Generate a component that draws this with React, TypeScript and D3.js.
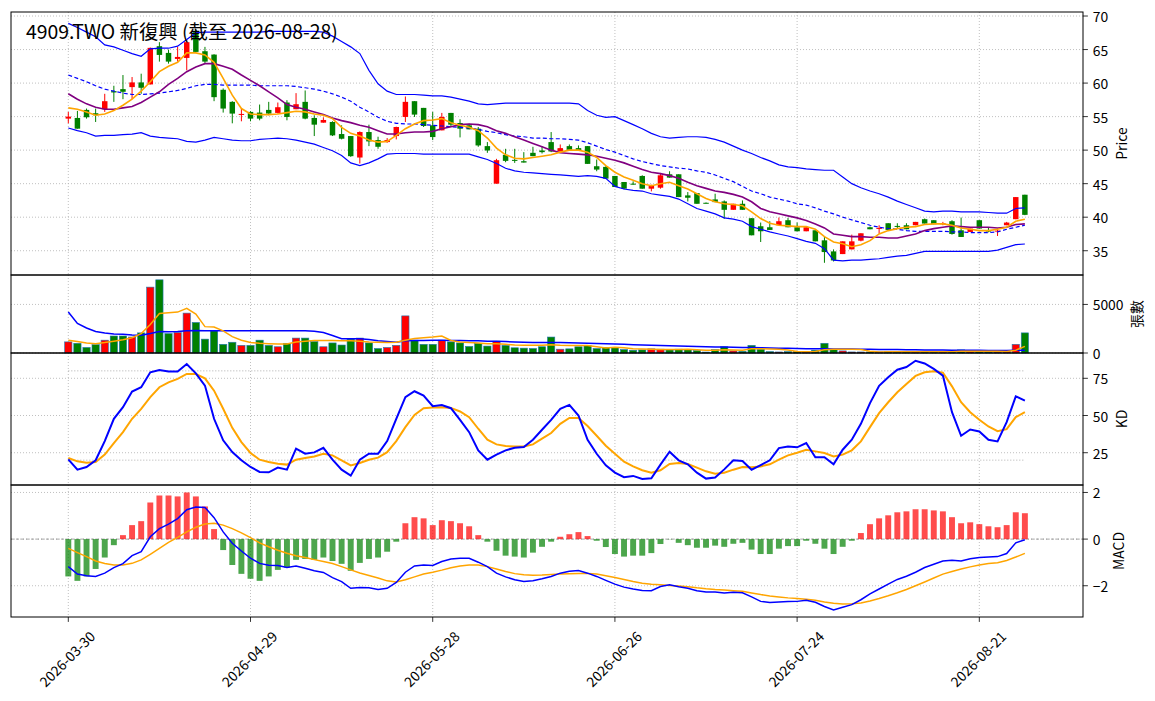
import * as d3 from 'd3';

// x-axis ticks (bar index -> date label)
const tickIdx = [0, 20, 40, 60, 80, 100];
const tickLabels = ['2026-03-30', '2026-04-29', '2026-05-28', '2026-06-26', '2026-07-24', '2026-08-21'];

const open = [
  54.7, 54.8, 56.0, 55.5, 56.1, 58.8, 59.1, 59.4, 60.1, 59.8,
  65.5, 64.5, 63.6, 63.75, 67.6, 64.75, 64.25, 59.0, 57.2, 55.3,
  55.7, 55.6, 56.0, 55.55, 57.1, 56.1, 57.2, 54.8, 54.1, 54.2,
  52.4, 52.1, 48.9, 52.7, 51.5, 51.2, 52.1, 54.95, 57.3, 56.3,
  53.7, 52.95, 55.55, 54.05, 53.7, 53.2, 50.6, 45.0, 49.3, 48.55,
  48.35, 49.6, 49.95, 51.2, 49.8, 50.6, 50.3, 50.6, 47.6, 47.5,
  46.15, 45.25, 45.0, 46.15, 44.25, 44.4, 46.4, 46.4, 43.25, 43.6,
  42.15, 42.65, 42.35, 41.1, 42.0, 39.85, 38.65, 38.5, 38.8, 39.55,
  38.5, 37.9, 38.05, 36.55, 34.9, 34.5, 35.2, 36.5, 38.5, 38.3,
  39.1, 38.7, 38.8, 38.8, 39.7, 39.55, 39.05, 39.4, 38.05, 37.8,
  39.55, 38.0, 37.95, 38.8, 39.7, 43.35,
];
const high = [
  55.7, 55.85, 56.2, 56.2, 58.4, 59.6, 61.2, 60.9, 61.4, 65.3,
  66.1, 65.0, 65.4, 66.4, 68.0, 65.4, 64.3, 59.2, 57.3, 56.2,
  55.8, 56.8, 57.2, 57.1, 57.45, 58.5, 58.9, 55.2, 54.9, 54.3,
  53.7, 52.1, 52.8, 53.8, 52.0, 51.8, 53.5, 58.0, 57.3, 56.3,
  55.7, 55.55, 55.55, 54.6, 53.95, 53.45, 51.2, 48.7, 50.2, 50.2,
  49.7, 50.5, 50.6, 52.7, 50.85, 50.85, 50.7, 50.6, 48.6, 47.6,
  46.15, 45.25, 45.35, 46.25, 44.85, 46.6, 46.85, 46.4, 43.75, 43.6,
  42.2, 43.5, 42.5, 42.0, 42.5, 39.85, 39.2, 39.4, 39.95, 39.9,
  39.2, 38.5, 38.05, 37.05, 35.2, 36.4, 37.4, 37.6, 38.6, 38.8,
  39.1, 39.1, 39.1, 39.3, 39.8, 39.55, 39.3, 39.55, 39.95, 38.3,
  39.55, 38.5, 38.3, 39.3, 43.0, 43.35,
];
const low = [
  54.0, 53.2, 54.7, 54.2, 55.7, 57.2, 57.6, 57.6, 58.4, 59.8,
  63.2, 62.9, 63.2, 61.9, 64.65, 62.9, 57.3, 55.6, 54.0, 54.3,
  54.3, 54.45, 55.2, 55.45, 54.45, 56.1, 54.6, 52.1, 54.1, 52.1,
  51.6, 49.0, 48.0, 50.6, 50.2, 51.1, 51.6, 54.2, 54.95, 53.45,
  51.5, 52.95, 53.45, 51.9, 53.1, 50.5, 49.6, 45.0, 48.2, 48.1,
  48.15, 49.1, 49.5, 49.7, 49.8, 49.95, 49.9, 47.95, 46.85, 45.75,
  44.5, 44.15, 44.85, 44.25, 43.85, 44.25, 45.9, 43.0, 42.35, 42.0,
  42.05, 42.25, 39.75, 41.1, 41.1, 37.3, 36.3, 38.1, 38.8, 38.5,
  37.9, 37.9, 36.4, 33.2, 33.4, 34.5, 35.2, 36.4, 38.2, 37.55,
  38.1, 38.3, 38.2, 38.8, 39.05, 38.95, 38.8, 37.4, 37.05, 37.8,
  38.3, 37.75, 37.2, 38.8, 39.7, 40.3,
];
const close = [
  55.0, 53.2, 54.9, 55.2, 57.3, 58.6, 58.7, 60.1, 59.3, 65.25,
  64.2, 63.2, 63.9, 66.1, 64.65, 63.2, 57.9, 56.2, 55.45, 55.4,
  54.7, 54.7, 55.45, 56.4, 54.95, 56.85, 54.7, 53.8, 54.5, 52.2,
  51.7, 49.1, 52.7, 51.3, 50.5, 51.5, 53.45, 57.2, 55.3, 53.6,
  51.95, 54.95, 53.8, 53.2, 53.1, 50.7, 49.95, 48.5, 48.4, 48.4,
  48.15, 49.1, 49.7, 49.8, 50.3, 50.05, 49.9, 47.95, 47.1, 45.75,
  44.5, 44.25, 44.85, 44.25, 44.65, 46.25, 45.9, 43.0, 42.9, 42.0,
  42.1, 42.25, 41.1, 42.0, 41.1, 37.3, 37.9, 38.1, 39.4, 38.5,
  37.9, 38.5, 36.4, 34.8, 33.55, 36.4, 36.4, 37.6, 38.2, 38.4,
  38.1, 38.6, 38.2, 39.3, 39.05, 38.95, 39.1, 37.5, 37.05, 38.3,
  38.3, 37.95, 38.0, 39.2, 43.0, 40.35,
];
const volume = [
  1143, 1000, 571, 857, 1321, 1750, 1750, 1643, 2071, 6783,
  7533, 2000, 2107, 4107, 3143, 1429, 2286, 893, 1107, 786,
  786, 1321, 786, 643, 1000, 1536, 1536, 1179, 643, 1036,
  821, 1429, 1536, 1036, 464, 571, 786, 3821, 1321, 893,
  893, 1321, 1143, 1036, 679, 1000, 714, 1214, 786, 536,
  500, 464, 643, 1643, 393, 429, 643, 750, 464, 571,
  571, 357, 286, 321, 429, 393, 321, 393, 357, 250,
  100, 357, 643, 214, 179, 786, 393, 143, 107, 143,
  143, 107, 286, 1000, 357, 214, 107, 107, 107, 107,
  143, 107, 143, 107, 143, 107, 107, 143, 321, 179,
  143, 107, 107, 214, 893, 2071,
];

// price overlays
const ma5 = [
  56.3, 56.1, 55.7, 55.2, 55.4, 55.9, 56.7, 57.6, 58.8, 60.2,
  61.7, 62.5, 63.1, 64.5, 64.5, 64.2, 63.1, 60.7, 58.2, 56.2,
  55.4, 55.3, 55.3, 55.4, 55.6, 55.8, 55.7, 55.4, 55.2, 54.7,
  53.4, 52.5, 52.1, 51.5, 51.2, 51.3, 52.2, 53.2, 53.9, 54.4,
  54.5, 54.7, 54.1, 53.7, 53.4, 52.9, 51.8, 50.3, 49.3, 48.8,
  48.7, 48.9, 49.1, 49.3, 49.7, 50.0, 50.0, 49.7, 48.9, 47.7,
  46.7, 46.0, 45.5, 45.0, 44.7, 45.0, 45.2, 44.7, 44.2, 43.5,
  42.8, 42.3, 42.0, 41.9, 41.7, 40.8, 39.8, 39.1, 38.8, 38.7,
  38.6, 38.6, 38.2, 37.1, 36.3, 36.05, 35.6, 35.9, 36.5, 37.5,
  38.0, 38.3, 38.5, 38.6, 38.9, 39.0, 39.0, 38.8, 38.4, 38.2,
  38.0, 38.0, 38.2, 38.5, 39.4, 39.7,
];
const ma10 = [
  58.4, 57.6, 56.9, 56.4, 56.1, 56.1, 56.3, 56.5, 57.1, 57.9,
  58.7, 59.8, 60.7, 61.7, 62.4, 62.9, 62.9, 62.5, 62.05, 61.2,
  60.4, 59.6, 58.7, 57.8, 56.8, 56.4, 56.1, 55.7, 55.3, 54.8,
  54.4, 54.1, 53.7, 53.4, 52.9, 52.4, 52.4, 52.6, 52.7, 52.7,
  52.8, 53.2, 53.5, 53.8, 53.9, 53.8, 53.5, 52.9, 52.5, 52.0,
  51.5, 51.0, 50.5, 50.0, 49.6, 49.5, 49.4, 49.3, 49.1, 48.8,
  48.5, 48.1, 47.6, 47.1, 46.7, 46.5, 46.2, 45.8, 45.2, 44.7,
  44.3, 43.9, 43.7, 43.4, 43.0, 42.3, 41.3, 40.8, 40.5, 40.2,
  39.9, 39.5, 39.0, 38.4, 37.5, 37.3, 37.1, 37.1, 37.0, 37.0,
  36.9, 36.9, 37.2, 37.5, 38.0, 38.3, 38.5, 38.7, 38.6, 38.5,
  38.5, 38.5, 38.4, 38.5, 38.9, 39.0,
];
const ma20 = [
  61.2, 60.7, 60.2, 59.6, 59.1, 58.8, 58.5, 58.3, 58.3, 58.4,
  58.5, 58.7, 58.9, 59.2, 59.6, 59.8, 59.8, 59.7, 59.7, 59.7,
  59.7, 59.6, 59.6, 59.6, 59.6, 59.5, 59.3, 59.1, 58.8, 58.4,
  57.9, 57.3, 56.4, 55.7, 54.9, 54.3, 54.0, 53.9, 53.9, 53.8,
  53.7, 53.6, 53.5, 53.4, 53.3, 53.1, 52.8, 52.6, 52.3, 52.1,
  52.0, 51.8, 51.8, 51.7, 51.7, 51.6, 51.5, 51.1, 50.6, 50.1,
  49.7, 49.2, 48.7, 48.3, 48.0, 47.7, 47.5, 47.3, 47.2, 46.9,
  46.7, 46.3, 45.8, 45.3, 44.6, 43.9, 43.5, 43.0, 42.7, 42.4,
  42.0, 41.8, 41.4, 40.9, 40.5, 40.0, 39.6, 39.2, 38.8, 38.5,
  38.3, 38.2, 38.0, 37.9, 37.9, 37.9, 37.9, 37.8, 37.8, 37.7,
  37.7, 37.7, 37.8, 38.2, 38.5, 38.8,
];
const bbUpper = [
  68.9, 68.3, 67.6, 66.9, 65.7, 65.4, 64.9, 64.4, 64.0, 65.1,
  65.2, 65.2, 65.5, 66.5, 67.5, 67.6, 67.6, 67.6, 67.6, 67.6,
  67.6, 67.6, 67.7, 67.7, 67.7, 67.7, 67.7, 67.7, 67.6, 67.0,
  66.2, 65.4, 64.4, 61.9, 59.9, 58.8, 58.3, 58.3, 58.3, 58.2,
  58.1, 58.1, 57.9, 57.6, 57.3, 56.9, 56.8, 56.9, 57.0, 57.0,
  57.0, 57.0, 57.0, 57.0, 57.0, 57.0, 56.9, 55.9, 55.2, 54.9,
  55.0, 54.4, 53.8, 53.2, 52.5, 52.0, 51.8, 51.9, 52.0, 52.0,
  51.9, 51.6, 51.2, 50.6, 50.0, 49.5, 48.9, 48.4, 47.8, 47.5,
  47.4, 47.2, 47.1, 47.0, 47.0, 46.0, 45.0, 44.4, 43.9, 43.5,
  43.0, 42.4, 41.9, 41.4, 40.9, 40.8, 40.9, 40.9, 40.8, 40.8,
  40.8, 40.7, 40.6, 40.6, 41.3, 41.4,
];
const bbLower = [
  53.3, 52.9, 52.6, 52.1, 52.2, 52.2, 52.3, 52.4, 52.6, 52.1,
  51.9, 51.8, 51.7, 51.3, 51.2, 51.5, 51.9, 51.7, 51.5, 51.4,
  51.4, 51.6, 51.7, 51.8, 51.7, 51.5, 51.2, 50.9, 50.4, 49.9,
  49.2, 48.1, 47.7, 48.1, 48.7, 49.4, 49.5, 49.5, 49.5, 49.4,
  49.4, 49.4, 49.4, 49.4, 49.4, 49.0, 48.6, 48.0, 47.3, 46.9,
  46.7, 46.6, 46.5, 46.4, 46.3, 46.2, 46.1, 46.2, 46.1, 45.8,
  44.6, 44.2, 44.0, 43.9, 43.5, 43.3, 43.1, 42.7, 42.0, 41.3,
  40.9, 40.5, 39.9, 39.7, 39.4, 38.6, 38.2, 37.8, 37.5, 37.2,
  36.8, 36.4, 36.1, 35.3, 33.6, 33.5, 33.6, 33.6, 33.7, 33.8,
  34.0, 34.2, 34.3, 34.6, 34.9, 34.9, 34.9, 34.9, 34.9, 34.9,
  34.9, 34.9, 35.1, 35.5, 35.9, 36.0,
];

// volume overlays
const volMa5 = [
  1321, 1179, 1036, 964, 1071, 1214, 1357, 1571, 2000, 2929,
  4070, 4141, 4213, 4605, 4000, 2714, 2679, 2286, 1679, 1321,
  1071, 1000, 964, 929, 929, 1143, 1214, 1286, 1286, 1286,
  1250, 1250, 1214, 1143, 1107, 1071, 1107, 1321, 1500, 1571,
  1643, 1750, 1286, 1143, 1071, 1036, 964, 964, 893, 821,
  786, 786, 786, 857, 786, 780, 760, 770, 650, 520,
  600, 540, 450, 410, 390, 370, 370, 370, 380, 340,
  290, 290, 340, 310, 290, 430, 440, 420, 390, 310,
  150, 130, 160, 340, 380, 390, 390, 360, 190, 110,
  120, 120, 120, 120, 120, 120, 120, 120, 170, 170,
  180, 180, 170, 150, 290, 680,
];
const volMa20 = [
  4213, 3036, 2571, 2214, 2071, 1964, 1929, 1857, 1821, 2000,
  2214, 2179, 2214, 2286, 2321, 2286, 2286, 2286, 2286, 2286,
  2286, 2286, 2286, 2286, 2286, 2286, 2286, 2250, 2100, 1800,
  1460, 1460, 1464, 1393, 1250, 1179, 1107, 1250, 1286, 1286,
  1321, 1321, 1286, 1286, 1250, 1250, 1214, 1214, 1179, 1143,
  1107, 1071, 1071, 1071, 1071, 1050, 1020, 1000, 980, 960,
  930, 900, 860, 830, 800, 770, 740, 720, 700, 680,
  650, 630, 610, 590, 570, 560, 540, 520, 500, 480,
  460, 440, 430, 430, 420, 410, 400, 390, 380, 370,
  360, 350, 340, 330, 320, 310, 300, 290, 290, 280,
  280, 270, 270, 270, 280, 290,
];

// KD
const kLine = [
  20.5, 13.6, 15.4, 19.9, 32.8, 47.8, 55.6, 66.1, 69.0, 79.0,
  80.6, 79.5, 79.5, 84.6, 78.3, 70.1, 47.8, 33.3, 25.4, 19.9,
  15.4, 12.1, 11.8, 15.0, 13.6, 27.7, 24.3, 25.2, 28.3, 20.3,
  13.6, 9.6, 20.3, 24.3, 24.3, 32.8, 47.8, 62.3, 66.3, 63.4,
  56.3, 57.1, 54.9, 47.1, 38.8, 26.6, 20.3, 23.7, 26.6, 28.3,
  28.8, 33.7, 40.4, 47.1, 54.5, 57.1, 50.0, 33.7, 24.3, 16.5,
  11.6, 8.5, 9.4, 7.4, 7.8, 17.0, 25.7, 19.9, 17.2, 11.6,
  7.6, 8.3, 13.8, 19.9, 19.4, 13.6, 16.7, 19.9, 28.1, 29.2,
  28.6, 31.5, 21.9, 21.9, 17.2, 27.0, 33.7, 44.4, 58.3, 69.9,
  75.7, 80.8, 82.6, 86.8, 85.0, 81.3, 76.8, 52.2, 36.4, 40.6,
  39.3, 33.7, 32.6, 45.5, 62.9, 60.0,
];
const dLine = [
  21.4, 19.2, 18.3, 18.75, 23.7, 31.5, 38.8, 47.8, 54.5, 62.3,
  69.0, 72.3, 74.6, 77.9, 77.9, 75.0, 66.7, 54.5, 41.7, 32.1,
  24.8, 20.3, 18.75, 17.6, 17.0, 20.3, 21.4, 22.5, 24.3, 23.2,
  19.9, 16.5, 18.1, 20.3, 21.7, 25.4, 32.8, 42.2, 50.4, 54.9,
  55.4, 55.6, 55.1, 52.7, 48.9, 41.1, 33.7, 30.6, 29.5, 29.2,
  29.2, 30.6, 34.4, 38.2, 44.4, 48.4, 48.4, 42.9, 36.4, 29.7,
  24.3, 19.0, 15.8, 13.2, 11.6, 13.2, 17.4, 18.1, 17.4, 15.0,
  12.5, 10.9, 11.6, 13.6, 15.4, 15.2, 15.8, 17.2, 20.3, 23.2,
  25.0, 27.0, 25.9, 24.8, 22.5, 23.7, 26.6, 32.6, 42.2, 51.6,
  58.9, 65.6, 71.2, 76.6, 79.0, 79.7, 78.8, 69.6, 58.9, 52.2,
  47.1, 42.6, 39.5, 40.8, 48.9, 52.2,
];

// MACD
const dif = [
  -1.18, -1.50, -1.57, -1.60, -1.46, -1.22, -1.05, -0.71, -0.54, 0.10,
  0.45, 0.64, 0.88, 1.26, 1.38, 1.36, 0.92, 0.31, -0.18, -0.51,
  -0.82, -1.04, -1.12, -1.13, -1.22, -1.15, -1.25, -1.36, -1.43, -1.65,
  -1.82, -2.11, -2.07, -2.09, -2.16, -2.11, -1.86, -1.42, -1.15, -1.11,
  -1.13, -0.96, -0.85, -0.82, -0.82, -0.99, -1.18, -1.46, -1.62, -1.74,
  -1.82, -1.79, -1.70, -1.60, -1.46, -1.38, -1.35, -1.46, -1.60, -1.77,
  -1.93, -2.06, -2.14, -2.20, -2.21, -2.03, -1.96, -2.04, -2.11, -2.21,
  -2.27, -2.27, -2.31, -2.28, -2.30, -2.48, -2.67, -2.72, -2.70, -2.68,
  -2.67, -2.62, -2.71, -2.89, -3.04, -2.92, -2.81, -2.60, -2.35, -2.14,
  -1.93, -1.73, -1.59, -1.42, -1.22, -1.08, -0.94, -0.91, -0.94, -0.84,
  -0.79, -0.77, -0.75, -0.62, -0.16, -0.03,
];
const dea = [
  -0.40, -0.58, -0.75, -0.94, -1.05, -1.11, -1.11, -1.04, -0.89, -0.65,
  -0.40, -0.14, 0.07, 0.31, 0.51, 0.65, 0.68, 0.60, 0.45, 0.27,
  0.06, -0.16, -0.33, -0.48, -0.61, -0.71, -0.79, -0.88, -0.96, -1.05,
  -1.18, -1.32, -1.45, -1.56, -1.67, -1.79, -1.84, -1.74, -1.62, -1.50,
  -1.42, -1.33, -1.23, -1.15, -1.11, -1.11, -1.18, -1.28, -1.39, -1.48,
  -1.53, -1.55, -1.54, -1.52, -1.50, -1.49, -1.48, -1.48, -1.50, -1.57,
  -1.65, -1.73, -1.82, -1.89, -1.94, -1.96, -1.99, -2.01, -2.04, -2.09,
  -2.13, -2.16, -2.18, -2.21, -2.24, -2.31, -2.38, -2.44, -2.48, -2.52,
  -2.55, -2.58, -2.62, -2.70, -2.75, -2.78, -2.77, -2.74, -2.65, -2.55,
  -2.43, -2.30, -2.16, -2.00, -1.84, -1.67, -1.50, -1.39, -1.28, -1.19,
  -1.11, -1.05, -1.01, -0.92, -0.77, -0.61,
];
const osc = [
  -1.60, -1.79, -1.60, -1.28, -0.79, -0.26, 0.17, 0.60, 0.77, 1.57,
  1.87, 1.87, 1.83, 2.0, 1.83, 1.40, 0.43, -0.47, -1.11, -1.49,
  -1.70, -1.79, -1.60, -1.32, -1.22, -0.89, -0.85, -0.89, -0.79, -0.94,
  -1.06, -1.36, -1.02, -0.85, -0.79, -0.54, -0.11, 0.68, 0.94, 0.89,
  0.60, 0.81, 0.77, 0.68, 0.55, 0.17, -0.11, -0.50, -0.71, -0.75,
  -0.79, -0.58, -0.33, -0.11, 0.10, 0.21, 0.30, 0.13, -0.07, -0.34,
  -0.64, -0.75, -0.71, -0.71, -0.60, -0.21, -0.01, -0.16, -0.26, -0.37,
  -0.37, -0.28, -0.33, -0.20, -0.16, -0.45, -0.64, -0.64, -0.41, -0.30,
  -0.30, -0.07, -0.20, -0.41, -0.64, -0.33, -0.07, 0.26, 0.64, 0.89,
  1.02, 1.15, 1.19, 1.28, 1.28, 1.23, 1.19, 0.94, 0.68, 0.72,
  0.64, 0.55, 0.51, 0.60, 1.15, 1.11,
];

const W = 1155;
const H = 701;
const LEFT = 11;
const RIGHT = 1083;
const FONT = '"Noto Sans CJK TC", "Noto Sans CJK JP", "Noto Sans", sans-serif';
const RED = '#ff0000';
const GREEN = '#008000';
const GRID = '#b0b0b0';
const TICK_FS = 13.9;

const x = d3.scaleLinear().domain([-6.29, 111.38]).range([LEFT, RIGHT]);
const step = x(1) - x(0);

const yPrice = d3.scaleLinear().domain([31.38, 70.6]).range([275, 12]);
const yVol = d3.scaleLinear().domain([0, 8030]).range([353, 275]);
const yKD = d3.scaleLinear().domain([3.3, 92]).range([485, 353]);
const yMacd = d3.scaleLinear().domain([-3.34, 2.32]).range([617, 485]);

const panels = [
  { key: 'price', y: yPrice, ticks: d3.range(35, 71, 5), label: 'Price', lx: 1121 },
  { key: 'vol', y: yVol, ticks: [0, 5000], label: '張數', lx: 1135.5 },
  { key: 'kd', y: yKD, ticks: [25, 50, 75], label: 'KD', lx: 1121 },
  { key: 'macd', y: yMacd, ticks: [-2, 0, 2], label: 'MACD', lx: 1118 },
];

const fmt = (t: number) => (t < 0 ? '\u2212' + Math.abs(t) : String(t));

function linePath(values: number[], y: d3.ScaleLinear<number, number>) {
  return d3.line<number>().x((_, i) => x(i)).y((d) => y(d))(values) ?? '';
}

const isUp = (i: number) => close[i] >= open[i];

function Grid({ y, ticks }: { y: d3.ScaleLinear<number, number>; ticks: number[] }) {
  const [bottom, top] = y.range();
  return (
    <g stroke={GRID} strokeWidth={0.8} strokeDasharray="1 2" fill="none">
      {ticks.map((t) => (
        <line key={'h' + t} x1={LEFT} x2={RIGHT} y1={y(t)} y2={y(t)} />
      ))}
      {tickIdx.map((t) => (
        <line key={'v' + t} x1={x(t)} x2={x(t)} y1={top} y2={bottom} />
      ))}
    </g>
  );
}

function Frame({ y, ticks, label, lx }: { y: d3.ScaleLinear<number, number>; ticks: number[]; label: string; lx: number }) {
  const [bottom, top] = y.range();
  return (
    <g>
      <rect x={LEFT} y={top} width={RIGHT - LEFT} height={bottom - top} fill="none" stroke="#000" strokeWidth={1} />
      {ticks.map((t) => (
        <g key={t}>
          <line x1={RIGHT} x2={RIGHT + 4.9} y1={y(t)} y2={y(t)} stroke="#000" strokeWidth={0.8} />
          <text x={RIGHT + 9.7} y={y(t)} dominantBaseline="central" fontSize={TICK_FS}>
            {fmt(t)}
          </text>
        </g>
      ))}
      <text
        transform={`translate(${lx},${(top + bottom) / 2}) rotate(-90)`}
        textAnchor="middle"
        dominantBaseline="central"
        fontSize={TICK_FS}
      >
        {label}
      </text>
    </g>
  );
}

export default function App() {
  const bodyW = step * 0.6;
  const volW = step * 0.8;
  const oscW = step * 0.65;

  return (
    <div style={{ position: 'absolute', left: 0, top: 0 }}>
      <svg width={W} height={H} style={{ display: 'block', background: '#fff' }} fontFamily={FONT}>
        {panels.map((p) => (
          <Grid key={p.key} y={p.y} ticks={p.ticks} />
        ))}

        {/* candles */}
        <g>
          {close.map((c, i) => {
            const o = open[i];
            const color = isUp(i) ? RED : GREEN;
            const top = yPrice(Math.max(o, c));
            const bot = yPrice(Math.min(o, c));
            return (
              <g key={i}>
                <line x1={x(i)} x2={x(i)} y1={yPrice(high[i])} y2={yPrice(low[i])} stroke={color} strokeWidth={1} />
                <rect x={x(i) - bodyW / 2} y={top} width={bodyW} height={Math.max(bot - top, 1)} fill={color} />
              </g>
            );
          })}
        </g>

        {/* price overlays */}
        <g fill="none">
          <path d={linePath(bbUpper, yPrice)} stroke="#0000ff" strokeWidth={1.2} />
          <path d={linePath(bbLower, yPrice)} stroke="#0000ff" strokeWidth={1.2} />
          <path d={linePath(ma20, yPrice)} stroke="#0000ff" strokeWidth={1.2} strokeDasharray="4 2.5" />
          <path d={linePath(ma10, yPrice)} stroke="#800080" strokeWidth={1.6} />
          <path d={linePath(ma5, yPrice)} stroke="#ffa500" strokeWidth={1.6} />
        </g>

        <text x={26} y={39} fontSize={19.4} fill="#000">
          4909.TWO 新復興 (截至 2026-08-28)
        </text>

        {/* volume */}
        <g>
          {volume.map((v, i) => (
            <rect
              key={i}
              x={x(i) - volW / 2}
              y={yVol(v)}
              width={volW}
              height={yVol(0) - yVol(v)}
              fill={isUp(i) ? RED : GREEN}
              stroke="#1f77b4"
              strokeWidth={0.6}
            />
          ))}
        </g>
        <g fill="none" strokeWidth={1.5}>
          <path d={linePath(volMa20, yVol)} stroke="#0000ff" />
          <path d={linePath(volMa5, yVol)} stroke="#ffa500" />
        </g>

        {/* KD */}
        <g stroke="#999" strokeWidth={0.8} strokeDasharray="1 2">
          {[20, 80].map((t) => (
            <line key={t} x1={x(0)} x2={x(close.length - 1)} y1={yKD(t)} y2={yKD(t)} />
          ))}
        </g>
        <g fill="none" strokeWidth={2}>
          <path d={linePath(dLine, yKD)} stroke="#ffa500" />
          <path d={linePath(kLine, yKD)} stroke="#0000ff" />
        </g>

        {/* MACD */}
        <line x1={LEFT} x2={RIGHT} y1={yMacd(0)} y2={yMacd(0)} stroke="gray" strokeWidth={1} strokeDasharray="3 2" opacity={0.7} />
        <g>
          {osc.map((v, i) => (
            <rect
              key={i}
              x={x(i) - oscW / 2}
              y={yMacd(Math.max(v, 0))}
              width={oscW}
              height={Math.abs(yMacd(v) - yMacd(0))}
              fill={v >= 0 ? 'red' : 'green'}
              opacity={0.7}
            />
          ))}
        </g>
        <g fill="none" strokeWidth={1.5}>
          <path d={linePath(dea, yMacd)} stroke="#ffa500" />
          <path d={linePath(dif, yMacd)} stroke="#0000ff" />
        </g>

        {panels.map((p) => (
          <Frame key={p.key} y={p.y} ticks={p.ticks} label={p.label} lx={p.lx} />
        ))}

        {/* x axis */}
        <g>
          {tickIdx.map((t, k) => (
            <g key={t}>
              <line x1={x(t)} x2={x(t)} y1={617} y2={621.9} stroke="#000" strokeWidth={0.8} />
              <text
                transform={`translate(${x(t) - 1.5},658.5) rotate(-45)`}
                textAnchor="middle"
                dominantBaseline="central"
                fontSize={TICK_FS}
              >
                {tickLabels[k]}
              </text>
            </g>
          ))}
        </g>
      </svg>
    </div>
  );
}
